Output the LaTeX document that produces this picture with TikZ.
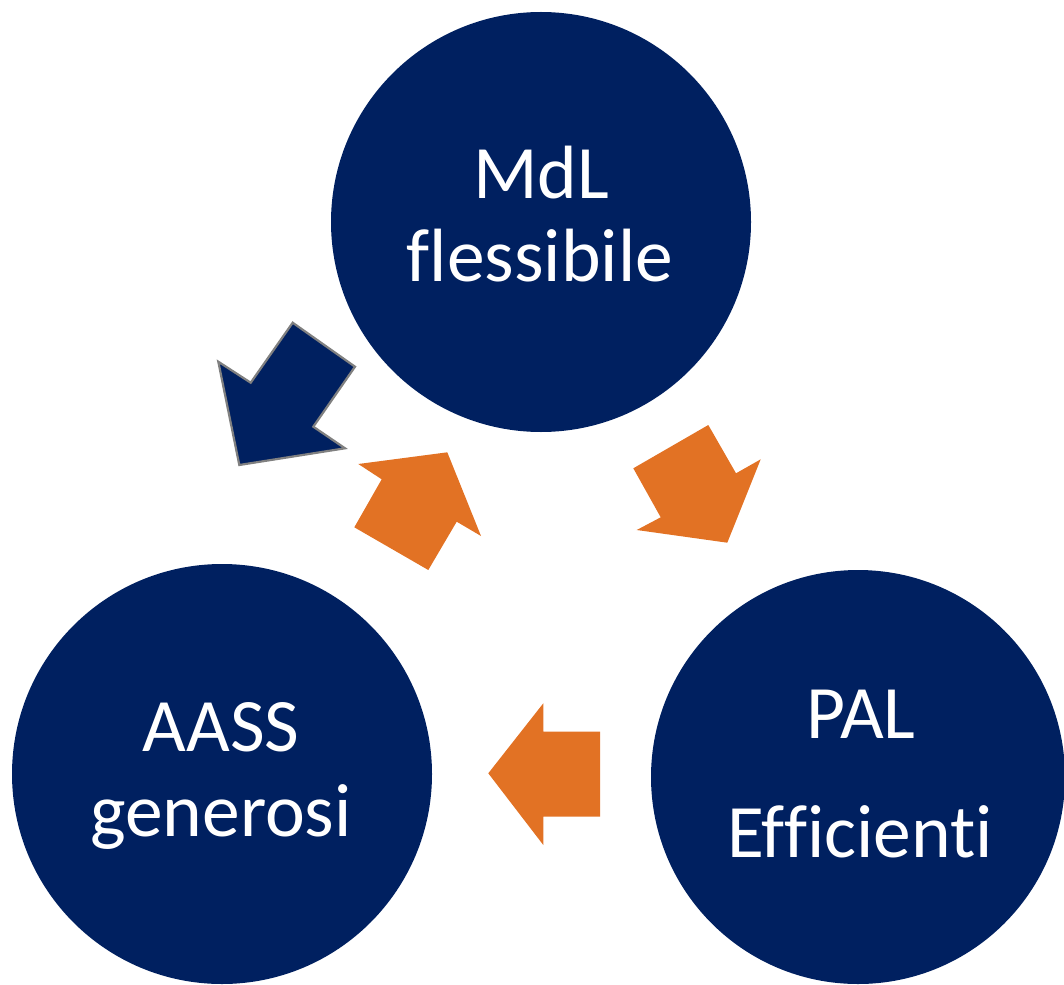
\documentclass[tikz,border=0pt]{standalone}
\usepackage{fontspec}
\setmainfont{Carlito}[Ligatures={NoCommon}]
\definecolor{navy}{HTML}{002060}
\definecolor{orng}{RGB}{226,114,36}
\definecolor{edgegray}{RGB}{128,128,128}
\begin{document}
\begin{tikzpicture}[x=1pt,y=-1pt,
  disc/.style={circle, fill=navy, inner sep=0pt, minimum size=#1},
  txt/.style={text=white, font=\fontsize{75.5}{85}\selectfont, anchor=base, inner sep=0pt},
  orangearrow/.style={fill=orng},
  navyarrow/.style={fill=navy, draw=edgegray, line width=2.2pt, line join=miter}]
\useasboundingbox (0,0) rectangle (1064,984);
\node[disc=420pt] (mdl) at (541,222) {};
\node[disc=420pt] (aass) at (222,774) {};
\node[disc=414pt] (pal) at (858,777) {};
\node[txt] (mdl1) at (541,198.3) {MdL};
\node[txt] (mdl2) at (540,281) {flessibile};
\node[txt] (aass1) at (221,751.7) {AASS};
\node[txt] (aass2) at (221,836.7) {generosi};
\node[txt] (pal1) at (861,738) {PAL};
\node[txt] (pal2) at (860,857) {Efficienti};
% dark arrow pointing down-left
\path[navyarrow] (292.7,322.7) -- (355,366.7) -- (313.3,426.7) -- (345,448.3) -- (239.3,465) -- (218.3,361.7) -- (250.7,382.7) -- cycle;
% orange arrow pointing up-right (AASS -> MdL)
\path[orangearrow] (358.3,464) -- (447.3,452.3) -- (481,536) -- (456.7,521.7) -- (428.3,570) -- (354.3,527.3) -- (381.7,479.3) -- cycle;
% orange arrow pointing down-right (MdL -> PAL)
\path[orangearrow] (708.3,425) -- (736,473.3) -- (760.7,459.3) -- (727.3,542.7) -- (636.7,530) -- (660.7,517.3) -- (633.3,468.3) -- cycle;
% orange arrow pointing left (PAL -> AASS)
\path[orangearrow] (543.3,703.3) -- (543.3,731.7) -- (600,731.7) -- (600,816.7) -- (543.3,816.7) -- (543.3,845) -- (488.3,773.3) -- cycle;
\end{tikzpicture}
\end{document}
